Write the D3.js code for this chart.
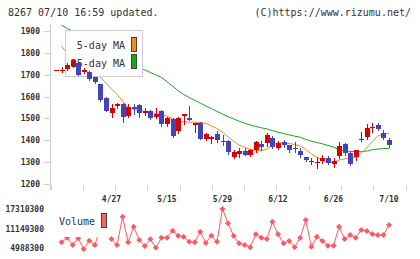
<!DOCTYPE html>
<html>
<head>
<meta charset="utf-8">
<script src="https://cdn.jsdelivr.net/npm/d3@7"></script>
<style>
  body { margin: 0; background: #fff; }
  text { font-family: "DejaVu Sans Mono", monospace; fill: #333; }
</style>
</head>
<body>
<div id="canvas"></div>
<script>
"use strict"

/* Drawing size */
let svgWidth = 420;
let svgHeight = 259;

/* Trading days (last 61 sessions) */
let dates = ["4/13", "4/14", "4/15", "4/16", "4/17", "4/20", "4/21", "4/22", "4/23", "4/24",
    "4/27", "4/28", "4/30", "5/1", "5/7", "5/8", "5/11", "5/12", "5/13", "5/14",
    "5/15", "5/18", "5/19", "5/20", "5/21", "5/22", "5/25", "5/26", "5/27", "5/28",
    "5/29", "6/1", "6/2", "6/3", "6/4", "6/5", "6/8", "6/9", "6/10", "6/11",
    "6/12", "6/15", "6/16", "6/17", "6/18", "6/19", "6/22", "6/23", "6/24", "6/25",
    "6/26", "6/29", "6/30", "7/1", "7/2", "7/3", "7/6", "7/7", "7/8", "7/9", "7/10"];

/* Price candles */
let openPrice = [1723, 1723, 1727, 1737, 1755, 1711, 1714, 1688, 1656, 1595,
    1528, 1555, 1568, 1512, 1551, 1560, 1525, 1534, 1505, 1535,
    1472, 1496, 1443, 1512, 1503, 1474, 1480, 1405, 1409, 1427,
    1397, 1398, 1325, 1338, 1351, 1333, 1355, 1382, 1389, 1412,
    1366, 1394, 1378, 1366, 1352, 1325, 1301, 1297, 1305, 1320,
    1291, 1328, 1382, 1343, 1322, 1398, 1416, 1459, 1470, 1435, 1401];
let closePrice = [1723, 1723, 1745, 1766, 1702, 1720, 1681, 1664, 1581, 1535,
    1550, 1565, 1510, 1553, 1543, 1522, 1536, 1500, 1520, 1474,
    1500, 1416, 1503, 1519, 1495, 1481, 1408, 1430, 1416, 1398,
    1392, 1348, 1348, 1351, 1333, 1356, 1391, 1366, 1424, 1371,
    1389, 1382, 1355, 1361, 1333, 1310, 1305, 1302, 1320, 1297,
    1307, 1374, 1340, 1291, 1355, 1404, 1457, 1462, 1452, 1412, 1378];
let highPrice = [1723, 1734, 1755, 1774, 1759, 1729, 1718, 1690, 1658, 1597,
    1566, 1570, 1572, 1565, 1566, 1566, 1550, 1538, 1546, 1538,
    1506, 1500, 1506, 1520, 1558, 1481, 1482, 1435, 1420, 1442,
    1424, 1400, 1355, 1363, 1363, 1358, 1398, 1398, 1432, 1420,
    1398, 1401, 1380, 1391, 1363, 1325, 1318, 1325, 1333, 1330,
    1318, 1391, 1389, 1345, 1357, 1437, 1473, 1480, 1477, 1447, 1412];
let lowPrice = [1723, 1711, 1722, 1735, 1700, 1710, 1678, 1662, 1580, 1533,
    1508, 1550, 1485, 1505, 1520, 1508, 1515, 1498, 1503, 1467,
    1466, 1414, 1433, 1475, 1494, 1437, 1406, 1402, 1386, 1390,
    1379, 1336, 1318, 1325, 1332, 1330, 1348, 1355, 1374, 1363,
    1360, 1371, 1345, 1348, 1325, 1303, 1291, 1272, 1295, 1290,
    1279, 1318, 1333, 1288, 1310, 1398, 1404, 1439, 1446, 1404, 1371];

/* Moving averages */
let ma5 = [null, 1831, 1797, 1775, 1757, 1738, 1722, 1707, 1688, 1662,
    1635, 1610, 1580, 1552, 1540, 1536, 1533, 1528, 1522, 1517,
    1510, 1500, 1490, 1484, 1483, 1483, 1482, 1478, 1466, 1454,
    1437, 1416, 1396, 1378, 1368, 1359, 1352, 1353, 1359, 1380,
    1388, 1388, 1385, 1381, 1374, 1358, 1338, 1322, 1308, 1300,
    1298, 1310, 1314, 1318, 1324, 1342, 1365, 1395, 1420, 1430, 1432];
let ma25 = [null, 1927, 1912, 1898, 1885, 1872, 1860, 1847, 1834, 1820,
    1806, 1792, 1778, 1763, 1748, 1733, 1722, 1710, 1699, 1688,
    1668, 1648, 1627, 1610, 1595, 1583, 1570, 1557, 1545, 1532,
    1520, 1508, 1498, 1487, 1478, 1470, 1463, 1457, 1452, 1444,
    1437, 1431, 1425, 1419, 1414, 1404, 1396, 1390, 1384, 1376,
    1369, 1357, 1352, 1349, 1348, 1348, 1351, 1357, 1360, 1362, 1363];

/* Volume */
let volume = [null, 6870000, 8310000, 6020000, 8120000, 4770000, 7370000, 6020000, 11350000, 10100000,
    7900000, 6020000, 14900000, 6870000, 11760000, 7590000, 5710000, 7810000, 5180000, 8310000,
    8310000, 10510000, 8940000, 8630000, 7060000, 6870000, 10190000, 6650000, 8940000, 7060000,
    17310000, 12830000, 8850000, 6560000, 6020000, 5300000, 9380000, 8310000, 7900000, 13330000,
    9380000, 6560000, 7280000, 5300000, 8310000, 13860000, 5490000, 8630000, 7280000, 5800000,
    5800000, 11760000, 7900000, 9160000, 8310000, 10730000, 10410000, 9470000, 9160000, 9160000, 12290000];

/* Axis labels */
let priceTicks = [1200, 1300, 1400, 1500, 1600, 1700, 1800, 1900];
let volumeTicks = [4988300, 11149300, 17310300];
let dateLabels = ["4/27", "5/15", "5/29", "6/12", "6/26", "7/10"];

let upColor = "#d80000";
let downColor = "#4343c0";
let ma5Color = "#f08c1e";
let ma25Color = "#15a915";
let volColor = "#ff5a64";

let svg = d3.select("#canvas")
    .append("svg")
    .attr("width", svgWidth)
    .attr("height", svgHeight);

/* Header */
svg.append("text")
    .attr("x", 8)
    .attr("y", 16)
    .style("font-size", "10px")
    .text("8267 07/10 16:59 updated.");
svg.append("text")
    .attr("x", 411)
    .attr("y", 16)
    .attr("text-anchor", "end")
    .style("font-size", "10px")
    .text("(C)https://www.rizumu.net/");

/* Scales */
let xScale = d3.scalePoint()
    .domain(dates)
    .range([56, 389]);
let yScale = d3.scaleLinear()
    .domain([1200, 1900])
    .range([184, 31]);
let vScale = d3.scaleLinear()
    .domain([4988300, 17310300])
    .range([248.3, 209]);
let gridScale = d3.scaleLinear()
    .domain([0, 11])
    .range([50.5, 405.5]);

/* Y axis line and ticks */
svg.append("line")
    .attr("x1", 50.5).attr("x2", 50.5)
    .attr("y1", 24).attr("y2", 190)
    .attr("stroke", "#d0d0d0");

priceTicks.forEach(function (p) {
    svg.append("line")
        .attr("x1", 44).attr("x2", 50)
        .attr("y1", Math.round(yScale(p)) + 0.5)
        .attr("y2", Math.round(yScale(p)) + 0.5)
        .attr("stroke", "#d0d0d0");
    svg.append("text")
        .attr("x", 40)
        .attr("y", yScale(p) + 3)
        .attr("text-anchor", "end")
        .style("font-size", "8px")
        .style("font-weight", "bold")
        .text(p);
});

/* bottom tick marks */
d3.range(12).forEach(function (k) {
    svg.append("line")
        .attr("x1", Math.round(gridScale(k)) + 0.5)
        .attr("x2", Math.round(gridScale(k)) + 0.5)
        .attr("y1", 185).attr("y2", 190)
        .attr("stroke", "#d0d0d0");
});

/* date labels */
dateLabels.forEach(function (d) {
    svg.append("text")
        .attr("x", xScale(d))
        .attr("y", 201.5)
        .attr("text-anchor", "middle")
        .style("font-size", "8px")
        .style("font-weight", "bold")
        .text(d);
});

/* Moving average lines */
let maLine = function (values) {
    return d3.line()
        .defined(function (v) { return v != null; })
        .x(function (v, i) { return xScale(dates[i]); })
        .y(function (v) { return yScale(v); })(values);
};
svg.append("path")
    .attr("d", maLine(ma25))
    .attr("fill", "none")
    .attr("stroke", ma25Color)
    .attr("stroke-width", 1);
svg.append("path")
    .attr("d", maLine(ma5))
    .attr("fill", "none")
    .attr("stroke", ma5Color)
    .attr("stroke-width", 1);

/* Legend box (hides the lines behind it) */
svg.append("rect")
    .attr("x", 65.5).attr("y", 30.5)
    .attr("width", 77).attr("height", 46)
    .attr("fill", "#fff")
    .attr("stroke", "#cccccc");
svg.append("text")
    .attr("x", 125).attr("y", 49)
    .attr("text-anchor", "end")
    .style("font-size", "10px")
    .text("5-day MA");
svg.append("text")
    .attr("x", 125).attr("y", 67)
    .attr("text-anchor", "end")
    .style("font-size", "10px")
    .text("25-day MA");
svg.append("rect")
    .attr("x", 131.5).attr("y", 37.5)
    .attr("width", 5).attr("height", 14)
    .attr("fill", ma5Color)
    .attr("stroke", "#444");
svg.append("rect")
    .attr("x", 131.5).attr("y", 54.5)
    .attr("width", 5).attr("height", 14)
    .attr("fill", ma25Color)
    .attr("stroke", "#444");

/* Candles */
let candles = dates.map(function (d, i) {
    return { date: d, o: openPrice[i], c: closePrice[i], h: highPrice[i], l: lowPrice[i] };
});

svg.selectAll(".wick")
    .data(candles)
    .join("line")
    .attr("class", "wick")
    .attr("x1", function (d) { return Math.round(xScale(d.date)) + 0.5; })
    .attr("x2", function (d) { return Math.round(xScale(d.date)) + 0.5; })
    .attr("y1", function (d) { return Math.round(yScale(d.h)); })
    .attr("y2", function (d) { return Math.round(yScale(d.l)) + 1; })
    .attr("stroke", function (d) { return d.c >= d.o ? upColor : downColor; });

svg.selectAll(".body")
    .data(candles)
    .join("rect")
    .attr("class", "body")
    .attr("x", function (d) { return Math.round(xScale(d.date)) - 2; })
    .attr("width", 5)
    .attr("y", function (d) { return Math.round(yScale(Math.max(d.o, d.c))); })
    .attr("height", function (d) {
        return Math.max(1, Math.round(Math.abs(yScale(d.o) - yScale(d.c))));
    })
    .attr("fill", function (d) { return d.c >= d.o ? upColor : downColor; })
    .attr("shape-rendering", "crispEdges");

/* Volume axis labels */
volumeTicks.forEach(function (v) {
    svg.append("text")
        .attr("x", 44)
        .attr("y", vScale(v) + 3)
        .attr("text-anchor", "end")
        .style("font-size", "8px")
        .style("font-weight", "bold")
        .text(v);
});

/* Volume line with diamonds */
let volLine = d3.line()
    .defined(function (v) { return v != null; })
    .x(function (v, i) { return xScale(dates[i]); })
    .y(function (v) { return vScale(v); });
svg.append("path")
    .attr("d", volLine(volume))
    .attr("fill", "none")
    .attr("stroke", volColor)
    .attr("stroke-width", 1);

svg.selectAll(".vdot")
    .data(volume.map(function (v, i) { return { date: dates[i], v: v }; })
        .filter(function (d) { return d.v != null; }))
    .join("path")
    .attr("class", "vdot")
    .attr("d", "M0,-3L3,0L0,3L-3,0Z")
    .attr("transform", function (d) {
        return "translate(" + xScale(d.date) + "," + vScale(d.v) + ")";
    })
    .attr("fill", volColor);

/* Volume legend (white patch over the line) */
svg.append("rect")
    .attr("x", 55).attr("y", 205)
    .attr("width", 56).attr("height", 32)
    .attr("fill", "#fff");
svg.append("text")
    .attr("x", 59).attr("y", 225)
    .style("font-size", "10px")
    .text("Volume");
svg.append("rect")
    .attr("x", 101.5).attr("y", 213.5)
    .attr("width", 5).attr("height", 14)
    .attr("fill", "#ff6060")
    .attr("stroke", "#444");
</script>
</body>
</html>
